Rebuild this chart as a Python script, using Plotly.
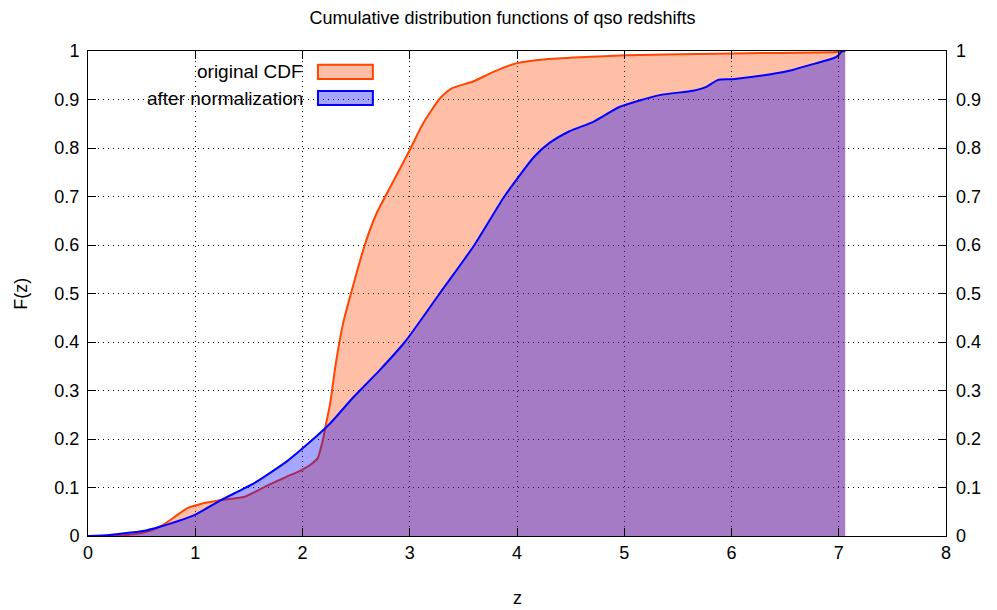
import plotly.graph_objects as go

# Original CDF of qso redshifts
z_orig = [0, 0.3, 0.5, 0.6, 0.7, 0.8, 0.93, 1.05, 1.24, 1.46, 1.68, 1.85, 1.99, 2.08,
          2.14, 2.19, 2.22, 2.257, 2.31, 2.38, 2.474, 2.58, 2.69, 2.784, 3.0, 3.125,
          3.28, 3.39, 3.59, 3.78, 4.0, 4.27, 4.585, 5.02, 6.01, 7.0, 7.06]
f_orig = [0, 0.001, 0.006, 0.012, 0.023, 0.038, 0.058, 0.066, 0.074, 0.081, 0.105,
          0.122, 0.136, 0.148, 0.16, 0.198, 0.232, 0.272, 0.355, 0.44, 0.518, 0.60,
          0.665, 0.705, 0.796, 0.851, 0.902, 0.923, 0.937, 0.957, 0.975, 0.983,
          0.987, 0.991, 0.995, 0.998, 1.0]

# CDF after normalization
z_norm = [0, 0.2, 0.4, 0.55, 0.70, 0.99, 1.24, 1.55, 1.86, 2.05, 2.257, 2.474, 2.72,
          2.954, 3.279, 3.603, 3.882, 4.16, 4.30, 4.485, 4.71, 4.96, 5.33,
          5.64, 5.765, 5.87, 6.01, 6.39, 6.57, 6.76, 6.95, 7.0, 7.03, 7.06]
f_norm = [0, 0.002, 0.007, 0.012, 0.021, 0.043, 0.074, 0.109, 0.155, 0.19, 0.232,
          0.286, 0.342, 0.40, 0.50, 0.60, 0.70, 0.782, 0.81, 0.834,
          0.854, 0.885, 0.909, 0.918, 0.926, 0.94, 0.942, 0.953, 0.961, 0.973,
          0.985, 0.992, 1.0, 1.0]

series_names = ["original CDF", "after normalization"]
x_ticks = list(range(0, 9))
y_tickvals = [i / 10 for i in range(11)]
y_ticktext = ["0", "0.1", "0.2", "0.3", "0.4", "0.5", "0.6", "0.7", "0.8", "0.9", "1"]

ORANGE = "#ff4500"
BLUE = "#0000ff"
ORANGE_FILL = "rgba(255,69,0,0.35)"
BLUE_FILL = "rgba(0,0,255,0.35)"
FONT = "Liberation Sans, Arial, sans-serif"

fig = go.Figure()
fig.add_trace(go.Scatter(x=z_orig, y=f_orig, mode="lines", fill="tozeroy",
                         fillcolor=ORANGE_FILL,
                         line=dict(color=ORANGE, width=2, shape="spline", smoothing=0.5),
                         name=series_names[0], showlegend=False))
fig.add_trace(go.Scatter(x=z_norm, y=f_norm, mode="lines", fill="tozeroy",
                         fillcolor=BLUE_FILL,
                         line=dict(color=BLUE, width=2, shape="spline", smoothing=0.6),
                         name=series_names[1], showlegend=False))
# invisible trace for the right-hand axis
fig.add_trace(go.Scatter(x=[None], y=[None], yaxis="y2", showlegend=False,
                         hoverinfo="skip"))

axis_common = dict(showline=True, linecolor="black", linewidth=1, mirror="ticks",
                   ticks="inside", ticklen=8, tickcolor="black", tickwidth=1,
                   showgrid=True, gridcolor="black", gridwidth=1, griddash="1px,4px",
                   zeroline=False, tickfont=dict(family=FONT, size=18, color="black"))

# page has an 8px body margin, so the figure is 8px smaller than the window
fig.update_layout(
    width=989, height=602,
    margin=dict(l=80, r=51, t=43, b=74),
    paper_bgcolor="white", plot_bgcolor="white",
    font=dict(family=FONT, color="black"),
    title=dict(text="Cumulative distribution functions of qso redshifts",
               x=0.5, xanchor="center", y=1 - 10 / 602, yanchor="middle",
               font=dict(size=18, family=FONT, color="black")),
    xaxis=dict(range=[0, 8], tickvals=x_ticks, **axis_common),
    yaxis=dict(range=[0, 1], tickvals=y_tickvals, ticktext=y_ticktext,
               ticklabelstandoff=4, **axis_common),
    yaxis2=dict(range=[0, 1], tickvals=y_tickvals, ticktext=y_ticktext, overlaying="y",
                side="right", ticks="", showgrid=False, zeroline=False, showline=False,
                ticklabelstandoff=9,
                tickfont=dict(family=FONT, size=18, color="black")),
    showlegend=False,
)

# axis titles
fig.add_annotation(text="z", xref="paper", yref="paper", x=0.5, y=-0.128,
                   showarrow=False, xanchor="center", yanchor="middle",
                   font=dict(size=18, family=FONT))
fig.add_annotation(text="F(z)", xref="paper", yref="paper", x=-0.079, y=0.5,
                   showarrow=False, textangle=-90, xanchor="center", yanchor="middle",
                   font=dict(size=18, family=FONT))

# manual legend (text left of swatch, like gnuplot)
legend_rows = [(series_names[0], ORANGE, ORANGE_FILL, 0.957),
               (series_names[1], BLUE, BLUE_FILL, 0.903)]
for name, lc, fc, yc in legend_rows:
    fig.add_annotation(text=name, xref="paper", yref="paper", x=0.253, y=yc,
                       showarrow=False, xanchor="right", yanchor="middle",
                       font=dict(size=19, family=FONT))
    fig.add_shape(type="rect", xref="paper", yref="paper", x0=0.268, x1=0.332,
                  y0=yc - 0.0145, y1=yc + 0.0145, fillcolor=fc,
                  line=dict(color=lc, width=2))

fig.write_html("out.html")
